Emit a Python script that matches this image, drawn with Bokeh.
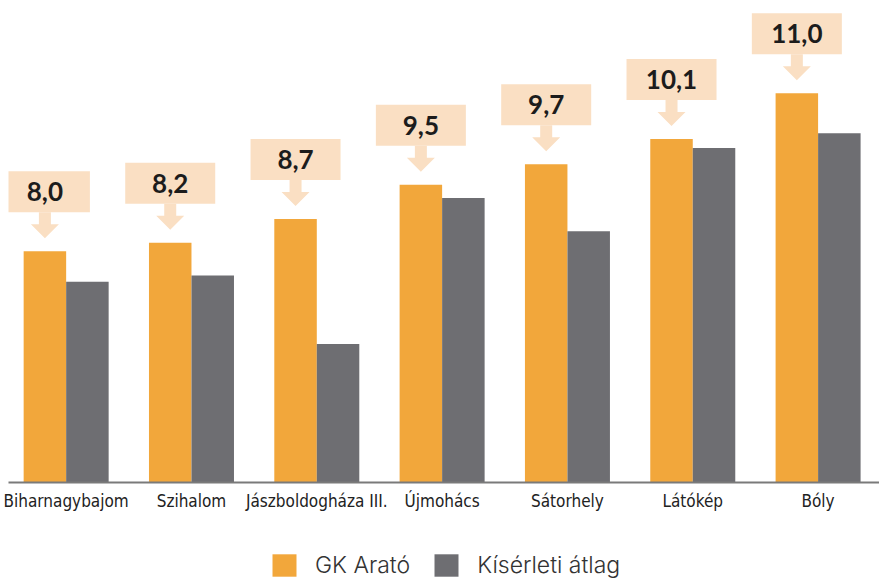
from bokeh.plotting import figure
from bokeh.layouts import column
from bokeh.models import Range1d, FixedTicker, Legend, LegendItem
from bokeh.core.properties import value
from bokeh.embed import file_html
from bokeh.resources import INLINE

sites = ["Biharnagybajom", "Szihalom", "Jászboldogháza III.", "Újmohács",
         "Sátorhely", "Látókép", "Bóly"]
gk_arato = [8.0, 8.16, 8.61, 9.26, 9.65, 10.13, 11.0]
kiserleti_atlag = [7.42, 7.54, 6.24, 9.01, 8.38, 9.96, 10.24]
gk_labels = ["8,0", "8,2", "8,7", "9,5", "9,7", "10,1", "11,0"]
legend_labels = ["GK Arató", "Kísérleti átlag"]

ORANGE = "#f2a73b"
GREY = "#6e6e72"
PEACH = "#fadfc3"

LEFT = 8
FW, FH = 871, 482
BOTTOM = 60
X0, X1 = -0.46, 6.49
Y0, Y1 = 3.61, 12.76
XPX = FW / (X1 - X0)
YPX = FH / (Y1 - Y0)
BAR_W = 42.5 / XPX

idx = list(range(len(sites)))
xo = [i - BAR_W / 2 for i in idx]
xg = [i + BAR_W / 2 for i in idx]

p = figure(frame_width=FW, frame_height=FH, output_backend="svg", toolbar_location=None,
           x_range=Range1d(X0, X1), y_range=Range1d(Y0, Y1),
           min_border_left=LEFT, min_border_right=0, min_border_top=0,
           min_border_bottom=BOTTOM)
p.outline_line_color = None
p.grid.visible = False
p.yaxis.visible = False

p.vbar(x=xo, top=gk_arato, bottom=Y0, width=BAR_W, fill_color=ORANGE, line_color=None)
p.vbar(x=xg, top=kiserleti_atlag, bottom=Y0, width=BAR_W, fill_color=GREY, line_color=None)

# callout boxes
bb = [v + 39 / YPX for v in gk_arato]
bt = [b + 41 / YPX for b in bb]
bl = [x - 45 / XPX for x in xo]
br = [x + 45 / XPX for x in xo]
p.quad(left=bl, right=br, bottom=bb, top=bt, fill_color=PEACH, line_color=None)

axs, ays = [], []
for x, v, b in zip(xo, gk_arato, bb):
    tip = v + 13 / YPX
    hb = tip + 14 / YPX
    hw = 14 / XPX
    sw = 6 / XPX
    axs.append([x - sw, x + sw, x + sw, x + hw, x, x - hw, x - sw])
    ays.append([b, b, hb, hb, tip, hb, hb])
p.patches(xs=axs, ys=ays, fill_color=PEACH, line_color=None)

ty = [b + 20.5 / YPX for b in bb]
p.text(x=xo, y=ty, text=gk_labels, text_align="center", text_baseline="middle",
       text_font=value("Lato"), text_font_style="bold", text_font_size="26px",
       text_color="#1c1c1c")

ax = p.xaxis[0]
ax.ticker = FixedTicker(ticks=idx)
ax.major_label_overrides = {i: s for i, s in zip(idx, sites)}
ax.major_label_text_font = "'DejaVu Sans Condensed', Roboto, sans-serif"
ax.major_label_text_font_size = "17px"
ax.major_label_text_color = "#222222"
ax.major_label_standoff = 2
ax.major_tick_line_color = None
ax.minor_tick_line_color = None
ax.axis_line_color = "#7a7a7a"
ax.axis_line_width = 2

# legend strip
LH = 37
p2 = figure(width=FW + LEFT, height=LH, output_backend="svg", toolbar_location=None,
            x_range=Range1d(0, FW + LEFT), y_range=Range1d(0, LH),
            x_axis_type=None, y_axis_type=None,
            min_border_left=0, min_border_right=0, min_border_top=0, min_border_bottom=0)
p2.outline_line_color = None
p2.grid.visible = False
lo = p2.vbar(x=[-1000], top=[-1000], width=1, fill_color=ORANGE, line_color=None)
lg = p2.vbar(x=[-1000], top=[-1000], width=1, fill_color=GREY, line_color=None)
legend = Legend(items=[LegendItem(label=legend_labels[0], renderers=[lo]),
                       LegendItem(label=legend_labels[1], renderers=[lg])],
                orientation="horizontal", location=(261, 0))
legend.label_text_font = "'Inter Light', Inter, sans-serif"
legend.label_text_font_size = "23px"
legend.label_text_color = "#333333"
legend.glyph_width = 30
legend.glyph_height = 28
legend.label_standoff = 16
legend.spacing = 21
legend.padding = 0
legend.margin = 0
legend.border_line_color = None
legend.background_fill_alpha = 0
legend.label_height = 28
p2.add_layout(legend)

layout = column(p, p2, spacing=0)
open("out.html", "w").write(file_html(layout, INLINE))
